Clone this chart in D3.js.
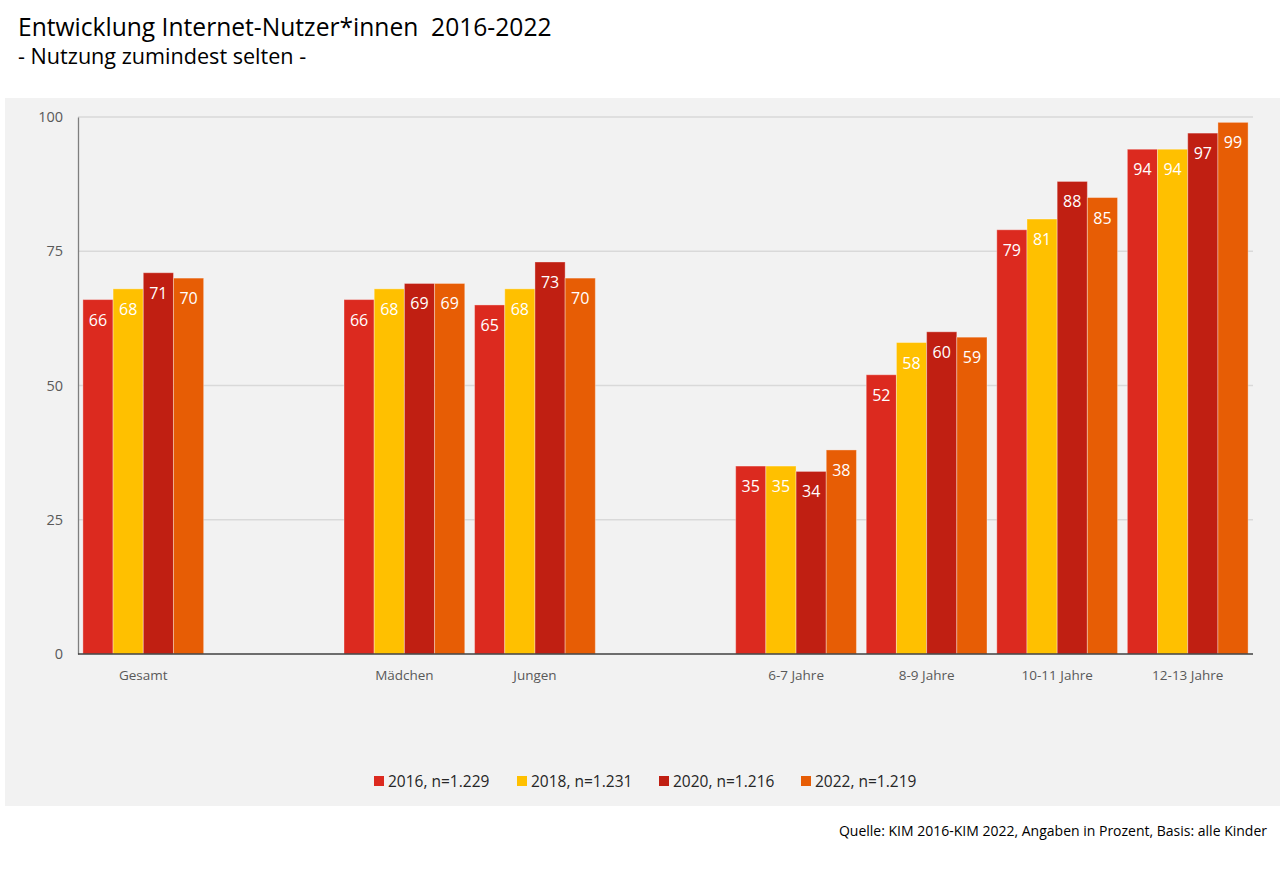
<!DOCTYPE html>
<html><head><meta charset="utf-8">
<script src="https://cdn.jsdelivr.net/npm/d3@7"></script>
<style>
html,body{margin:0;padding:0;background:#fff;}
svg text{font-family:"Open Sans",sans-serif;}
</style></head>
<body>
<svg id="c" width="1280" height="876"></svg>
<script>
const slots = ["Gesamt", "gap1", "Mädchen", "Jungen", "gap2", "6-7 Jahre", "8-9 Jahre", "10-11 Jahre", "12-13 Jahre"];
const categories = ["Gesamt", "Mädchen", "Jungen", "6-7 Jahre", "8-9 Jahre", "10-11 Jahre", "12-13 Jahre"];
const seriesNames = ["2016, n=1.229", "2018, n=1.231", "2020, n=1.216", "2022, n=1.219"];
const colors = ["#dc2a1f", "#ffc000", "#c01f12", "#e75d05"];
const v2016 = [66, 66, 65, 35, 52, 79, 94];
const v2018 = [68, 68, 68, 35, 58, 81, 94];
const v2020 = [71, 69, 73, 34, 60, 88, 97];
const v2022 = [70, 69, 70, 38, 59, 85, 99];
const yTicks = [0, 25, 50, 75, 100];

const values = [v2016, v2018, v2020, v2022];
const svg = d3.select("#c");

svg.append("rect").attr("x", 5).attr("y", 98).attr("width", 1275).attr("height", 708).attr("fill", "#f2f2f2");

svg.append("text").attr("x", 18).attr("y", 36).attr("font-size", 24.6).attr("fill", "#000")
  .text("Entwicklung Internet-Nutzer*innen  2016-2022").style("white-space", "pre");
svg.append("text").attr("x", 18).attr("y", 64).attr("font-size", 21.6).attr("fill", "#000")
  .text("- Nutzung zumindest selten -");

const x0 = d3.scaleBand().domain(slots).range([78, 1253]).paddingInner(0.075).paddingOuter(0.0375);
const x1 = d3.scaleBand().domain(d3.range(seriesNames.length)).range([0, x0.bandwidth()]);
const y = d3.scaleLinear().domain([0, 100]).range([654, 117]);

// gridlines
svg.append("g").selectAll("line").data(yTicks.filter(d => d > 0)).join("line")
  .attr("x1", 78).attr("x2", 1253).attr("y1", d => y(d)).attr("y2", d => y(d))
  .attr("stroke", "#d9d9d9").attr("stroke-width", 1.3);

// y axis
const yAxis = svg.append("g").attr("transform", "translate(78,0)")
  .call(d3.axisLeft(y).tickValues(yTicks).tickSize(0).tickPadding(15));
yAxis.select(".domain").attr("stroke", "#7f7f7f").attr("stroke-width", 1.3);
yAxis.selectAll("text").attr("font-size", 14.5).attr("fill", "#595959").attr("font-family", "Open Sans");

// bars
const data = [];
categories.forEach((c, i) => values.forEach((s, j) => data.push({cat: c, s: j, v: s[i]})));
const g = svg.append("g");
g.selectAll("rect").data(data).join("rect")
  .attr("x", d => x0(d.cat) + x1(d.s)).attr("width", x1.bandwidth())
  .attr("y", d => y(d.v)).attr("height", d => y(0) - y(d.v))
  .attr("fill", d => colors[d.s]).attr("stroke", "rgba(255,255,255,0.35)").attr("stroke-width", 1);
g.selectAll("text").data(data).join("text")
  .attr("x", d => x0(d.cat) + x1(d.s) + x1.bandwidth() / 2).attr("y", d => y(d.v) + 26)
  .attr("text-anchor", "middle").attr("font-size", 16).attr("fill", "#fff")
  .text(d => d.v);

// x axis
const xAxis = svg.append("g").attr("transform", "translate(0,654)")
  .call(d3.axisBottom(x0).tickValues(categories).tickSize(0).tickPadding(16));
xAxis.select(".domain").attr("d", "M78,0H1253").attr("stroke", "#404040").attr("stroke-width", 1.5);
xAxis.selectAll("text").attr("font-size", 13.5).attr("fill", "#595959").attr("font-family", "Open Sans");

// legend
const legX = [374, 517, 659, 801];
const leg = svg.append("g").selectAll("g").data(seriesNames).join("g")
  .attr("transform", (d, i) => `translate(${legX[i]},781)`);
leg.append("rect").attr("x", 0).attr("y", -5).attr("width", 10).attr("height", 10).attr("fill", (d, i) => colors[i]);
leg.append("text").attr("x", 14).attr("y", 5.5).attr("font-size", 15.5).attr("fill", "#262626").text(d => d);

svg.append("text").attr("x", 1267).attr("y", 836).attr("text-anchor", "end").attr("font-size", 14).attr("fill", "#000")
  .text("Quelle: KIM 2016-KIM 2022, Angaben in Prozent, Basis: alle Kinder");
</script>
</body></html>
